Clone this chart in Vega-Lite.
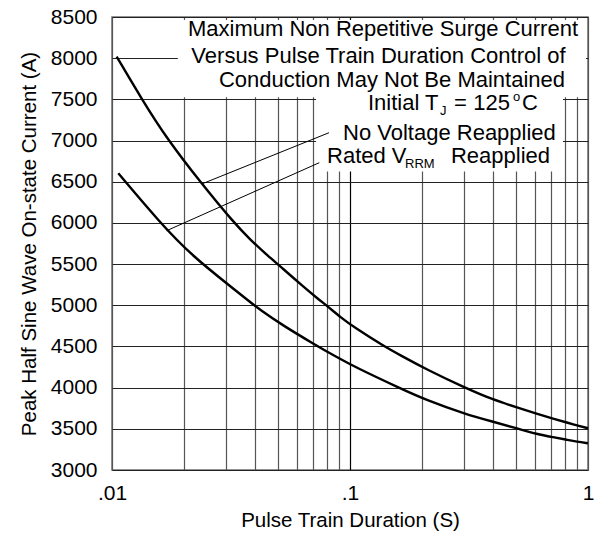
{
  "$schema": "https://vega.github.io/schema/vega-lite/v6.json",
  "width": 476,
  "height": 453,
  "autosize": {"type": "none"},
  "padding": {"left": 112, "top": 17, "right": 17, "bottom": 65},
  "background": "white",
  "config": {
    "font": "Liberation Sans",
    "view": {"stroke": "#707070", "strokeWidth": 1.5}
  },
  "datasets": {
    "boxes": [
      {"x1": 0.0189, "x2": 0.981, "y1": 7525, "y2": 8465},
      {"x1": 0.072, "x2": 0.785, "y1": 6625, "y2": 7530}
    ],
    "leaders": [
      {"x1": 0.02412, "y1": 6479, "x2": 0.0816, "y2": 7095},
      {"x1": 0.01698, "y1": 5906, "x2": 0.0743, "y2": 6731}
    ],
    "curves": [
      {"series": "No Voltage Reapplied", "t": 0.01046, "I": 8020},
      {"series": "No Voltage Reapplied", "t": 0.01333, "I": 7504},
      {"series": "No Voltage Reapplied", "t": 0.01698, "I": 7026},
      {"series": "No Voltage Reapplied", "t": 0.02359, "I": 6490},
      {"series": "No Voltage Reapplied", "t": 0.03234, "I": 6010},
      {"series": "No Voltage Reapplied", "t": 0.038, "I": 5800},
      {"series": "No Voltage Reapplied", "t": 0.0452, "I": 5598},
      {"series": "No Voltage Reapplied", "t": 0.0518, "I": 5455},
      {"series": "No Voltage Reapplied", "t": 0.0637, "I": 5225},
      {"series": "No Voltage Reapplied", "t": 0.0736, "I": 5075},
      {"series": "No Voltage Reapplied", "t": 0.0803, "I": 4990},
      {"series": "No Voltage Reapplied", "t": 0.0917, "I": 4850},
      {"series": "No Voltage Reapplied", "t": 0.1042, "I": 4732},
      {"series": "No Voltage Reapplied", "t": 0.138, "I": 4508},
      {"series": "No Voltage Reapplied", "t": 0.1622, "I": 4395},
      {"series": "No Voltage Reapplied", "t": 0.2086, "I": 4224},
      {"series": "No Voltage Reapplied", "t": 0.3063, "I": 3994},
      {"series": "No Voltage Reapplied", "t": 0.3977, "I": 3855},
      {"series": "No Voltage Reapplied", "t": 0.5017, "I": 3760},
      {"series": "No Voltage Reapplied", "t": 0.6123, "I": 3681},
      {"series": "No Voltage Reapplied", "t": 0.7148, "I": 3623},
      {"series": "No Voltage Reapplied", "t": 0.8214, "I": 3574},
      {"series": "No Voltage Reapplied", "t": 0.8963, "I": 3543},
      {"series": "No Voltage Reapplied", "t": 1.0, "I": 3507},
      {"series": "Rated VRRM Reapplied", "t": 0.01063, "I": 6602},
      {"series": "Rated VRRM Reapplied", "t": 0.0159, "I": 6003},
      {"series": "Rated VRRM Reapplied", "t": 0.0217, "I": 5600},
      {"series": "Rated VRRM Reapplied", "t": 0.03225, "I": 5205},
      {"series": "Rated VRRM Reapplied", "t": 0.038, "I": 5040},
      {"series": "Rated VRRM Reapplied", "t": 0.0419, "I": 4945},
      {"series": "Rated VRRM Reapplied", "t": 0.0518, "I": 4761},
      {"series": "Rated VRRM Reapplied", "t": 0.0724, "I": 4510},
      {"series": "Rated VRRM Reapplied", "t": 0.0824, "I": 4417},
      {"series": "Rated VRRM Reapplied", "t": 0.0917, "I": 4344},
      {"series": "Rated VRRM Reapplied", "t": 0.1042, "I": 4255},
      {"series": "Rated VRRM Reapplied", "t": 0.1622, "I": 3992},
      {"series": "Rated VRRM Reapplied", "t": 0.2086, "I": 3850},
      {"series": "Rated VRRM Reapplied", "t": 0.3063, "I": 3677},
      {"series": "Rated VRRM Reapplied", "t": 0.3977, "I": 3587},
      {"series": "Rated VRRM Reapplied", "t": 0.5017, "I": 3507},
      {"series": "Rated VRRM Reapplied", "t": 0.6123, "I": 3434},
      {"series": "Rated VRRM Reapplied", "t": 0.7148, "I": 3398},
      {"series": "Rated VRRM Reapplied", "t": 0.8214, "I": 3365},
      {"series": "Rated VRRM Reapplied", "t": 0.8963, "I": 3344},
      {"series": "Rated VRRM Reapplied", "t": 1.0, "I": 3325}
    ],
    "textCenter": [
      {"label": "Maximum Non Repetitive Surge Current", "x": 0.1376, "y": 8269},
      {"label": "Versus Pulse Train Duration Control of", "x": 0.1317, "y": 7942},
      {"label": "Conduction May Not Be Maintained", "x": 0.1501, "y": 7650}
    ],
    "textLeft": [
      {"label": "Initial T", "x": 0.11901, "y": 7371},
      {"label": "=", "x": 0.2735, "y": 7371},
      {"label": "C", "x": 0.528, "y": 7371},
      {"label": "No Voltage Reapplied", "x": 0.09346, "y": 7007},
      {"label": "Rated V", "x": 0.08007, "y": 6727}
    ],
    "textRight": [
      {"label": "125", "x": 0.4702, "y": 7371},
      {"label": "Reapplied", "x": 0.6924, "y": 6727}
    ],
    "textSmall": [
      {"label": "J", "x": 0.2389, "y": 7310},
      {"label": "o", "x": 0.4841, "y": 7478},
      {"label": "RRM", "x": 0.1703, "y": 6667}
    ]
  },
  "layer": [
    {
      "data": {"name": "boxes"},
      "mark": {"type": "rect", "fill": "white", "strokeWidth": 0},
      "encoding": {
        "x": {
          "field": "x1", "type": "quantitative",
          "title": "Pulse Train Duration (S)",
          "scale": {"type": "log", "domain": [0.01, 1], "nice": false},
          "axis": {
            "values": [0.01, 0.02, 0.03, 0.04, 0.05, 0.06, 0.07, 0.08, 0.09, 0.1, 0.2, 0.3, 0.4, 0.5, 0.6, 0.7, 0.8, 0.9, 1],
            "labelExpr": "datum.value == 0.01 ? '.01' : datum.value == 0.1 ? '.1' : datum.value == 1 ? '1' : ''",
            "grid": true,
            "gridColor": {"condition": {"test": "datum.value == 0.1", "value": "#000000"}, "value": "#555555"},
            "gridWidth": 1.2,
            "ticks": false,
            "domain": false,
            "labelFontSize": 21,
            "labelColor": "black",
            "labelPadding": 12,
            "labelFlush": false,
            "labelOverlap": false,
            "labelBound": false,
            "titleFontSize": 20.5,
            "titleFontWeight": "normal",
            "titleColor": "black",
            "titlePadding": 7
          }
        },
        "x2": {"field": "x2"},
        "y": {
          "field": "y1", "type": "quantitative",
          "title": "Peak Half Sine Wave On-state Current (A)",
          "scale": {"domain": [3000, 8500], "nice": false, "zero": false},
          "axis": {
            "values": [3000, 3500, 4000, 4500, 5000, 5500, 6000, 6500, 7000, 7500, 8000, 8500],
            "format": "d",
            "grid": true,
            "gridColor": "#222222",
            "gridWidth": 1.2,
            "ticks": false,
            "domain": false,
            "labelFontSize": 21,
            "labelColor": "black",
            "labelPadding": 15,
            "labelOverlap": false,
            "labelBound": false,
            "labelFlush": false,
            "titleFontSize": 20.5,
            "titleFontWeight": "normal",
            "titleColor": "black",
            "titlePadding": 11
          }
        },
        "y2": {"field": "y2"}
      }
    },
    {
      "data": {"name": "leaders"},
      "mark": {"type": "rule", "color": "black", "strokeWidth": 1},
      "encoding": {
        "x": {"field": "x1", "type": "quantitative", "title": "Pulse Train Duration (S)"},
        "x2": {"field": "x2"},
        "y": {"field": "y1", "type": "quantitative", "title": "Peak Half Sine Wave On-state Current (A)"},
        "y2": {"field": "y2"}
      }
    },
    {
      "data": {"name": "curves"},
      "mark": {"type": "line", "color": "black", "strokeWidth": 2.4, "interpolate": "basis"},
      "encoding": {
        "x": {"field": "t", "type": "quantitative", "title": "Pulse Train Duration (S)"},
        "y": {"field": "I", "type": "quantitative", "title": "Peak Half Sine Wave On-state Current (A)"},
        "detail": {"field": "series"}
      }
    },
    {
      "data": {"name": "textCenter"},
      "mark": {"type": "text", "align": "center", "baseline": "alphabetic", "fontSize": 22, "color": "black"},
      "encoding": {
        "x": {"field": "x", "type": "quantitative", "title": "Pulse Train Duration (S)"},
        "y": {"field": "y", "type": "quantitative", "title": "Peak Half Sine Wave On-state Current (A)"},
        "text": {"field": "label"}
      }
    },
    {
      "data": {"name": "textLeft"},
      "mark": {"type": "text", "align": "left", "baseline": "alphabetic", "fontSize": 22, "color": "black"},
      "encoding": {
        "x": {"field": "x", "type": "quantitative", "title": "Pulse Train Duration (S)"},
        "y": {"field": "y", "type": "quantitative", "title": "Peak Half Sine Wave On-state Current (A)"},
        "text": {"field": "label"}
      }
    },
    {
      "data": {"name": "textRight"},
      "mark": {"type": "text", "align": "right", "baseline": "alphabetic", "fontSize": 22, "color": "black"},
      "encoding": {
        "x": {"field": "x", "type": "quantitative", "title": "Pulse Train Duration (S)"},
        "y": {"field": "y", "type": "quantitative", "title": "Peak Half Sine Wave On-state Current (A)"},
        "text": {"field": "label"}
      }
    },
    {
      "data": {"name": "textSmall"},
      "mark": {"type": "text", "align": "left", "baseline": "alphabetic", "fontSize": 13, "color": "black"},
      "encoding": {
        "x": {"field": "x", "type": "quantitative", "title": "Pulse Train Duration (S)"},
        "y": {"field": "y", "type": "quantitative", "title": "Peak Half Sine Wave On-state Current (A)"},
        "text": {"field": "label"}
      }
    }
  ]
}
